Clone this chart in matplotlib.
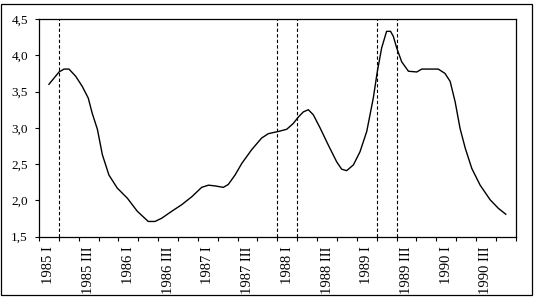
import matplotlib.pyplot as plt
from matplotlib.patches import Rectangle
from matplotlib.ticker import FuncFormatter, MultipleLocator

# quarter labels (every other quarter is labelled)
years = [1985, 1986, 1987, 1988, 1989, 1990]
quarters = ['I', 'II', 'III', 'IV']
categories = [f"{y} {q}" for y in years for q in quarters]
tick_labels = [c if i % 2 == 0 else '' for i, c in enumerate(categories)]

# curve, x in quarters (0 = 1985 I)
curve_x = [0.0, 0.51, 0.76, 1.01, 1.35, 1.68, 1.98, 2.18, 2.44, 2.69,
           3.02, 3.44, 3.95, 4.45, 5.0, 5.34, 5.68, 6.18, 6.68, 7.19,
           7.69, 8.03, 8.36, 8.78, 9.03, 9.37, 9.71, 10.21, 10.71, 11.05,
           11.38, 11.55, 11.97, 12.3, 12.56, 12.81, 13.06, 13.31, 13.65, 14.07,
           14.49, 14.74, 14.99, 15.33, 15.66, 16.0, 16.33, 16.53, 16.75, 17.0,
           17.2, 17.34, 17.51, 17.76, 18.1, 18.52, 18.77, 19.19, 19.6, 19.94,
           20.2, 20.45, 20.7, 20.96, 21.29, 21.71, 22.21, 22.63, 23.0]
curve_y = [3.60, 3.77, 3.81, 3.81, 3.71, 3.57, 3.41, 3.20, 2.98, 2.63,
           2.35, 2.17, 2.03, 1.85, 1.71, 1.71, 1.755, 1.85, 1.94, 2.05,
           2.18, 2.21, 2.20, 2.18, 2.22, 2.35, 2.51, 2.70, 2.86, 2.92,
           2.94, 2.95, 2.98, 3.06, 3.15, 3.22, 3.25, 3.18, 3.00, 2.76,
           2.53, 2.43, 2.41, 2.49, 2.67, 2.95, 3.41, 3.77, 4.10, 4.33,
           4.33, 4.26, 4.10, 3.91, 3.78, 3.77, 3.81, 3.81, 3.81, 3.75,
           3.64, 3.36, 2.99, 2.72, 2.44, 2.21, 2.01, 1.89, 1.81]

# dashed markers sit on quarter boundaries
event_lines = [0.5, 11.5, 12.5, 16.5, 17.5]

plt.rcParams['font.family'] = ['Liberation Serif', 'DejaVu Serif']

fig = plt.figure(figsize=(5.35, 2.98), dpi=100)
ax = fig.add_axes([39 / 535, 1 - 236.7 / 298, 476.7 / 535, 217.7 / 298])

ax.plot(curve_x, curve_y, color='black', lw=1.0)
for xv in event_lines:
    ax.axvline(xv, color='black', lw=0.8, linestyle=(0, (3, 2)))

ax.set_xlim(-0.5, len(categories) - 0.5)
ax.set_ylim(1.5, 4.5)
ax.yaxis.set_major_locator(MultipleLocator(0.5))
ax.yaxis.set_major_formatter(FuncFormatter(lambda v, p: f"{v:.1f}".replace('.', ',')))

ax.set_xticks(range(len(categories)))
ax.set_xticklabels(tick_labels, rotation=90)
ax.set_xticks([i - 0.5 for i in range(len(categories) + 1)], minor=True)
ax.tick_params(axis='x', which='major', length=0, pad=7, labelsize=10.5)
ax.tick_params(axis='x', which='minor', length=3, width=0.8)
ax.tick_params(axis='y', length=3, width=0.8, pad=5, labelsize=9.5)

for sp in ax.spines.values():
    sp.set_linewidth(0.9)

fig.patches.append(Rectangle((1.5 / 535, 3.5 / 298), 530.5 / 535, 290.5 / 298,
                             transform=fig.transFigure, fill=False,
                             edgecolor='black', lw=0.9))

fig.savefig('out.png', dpi=100)
